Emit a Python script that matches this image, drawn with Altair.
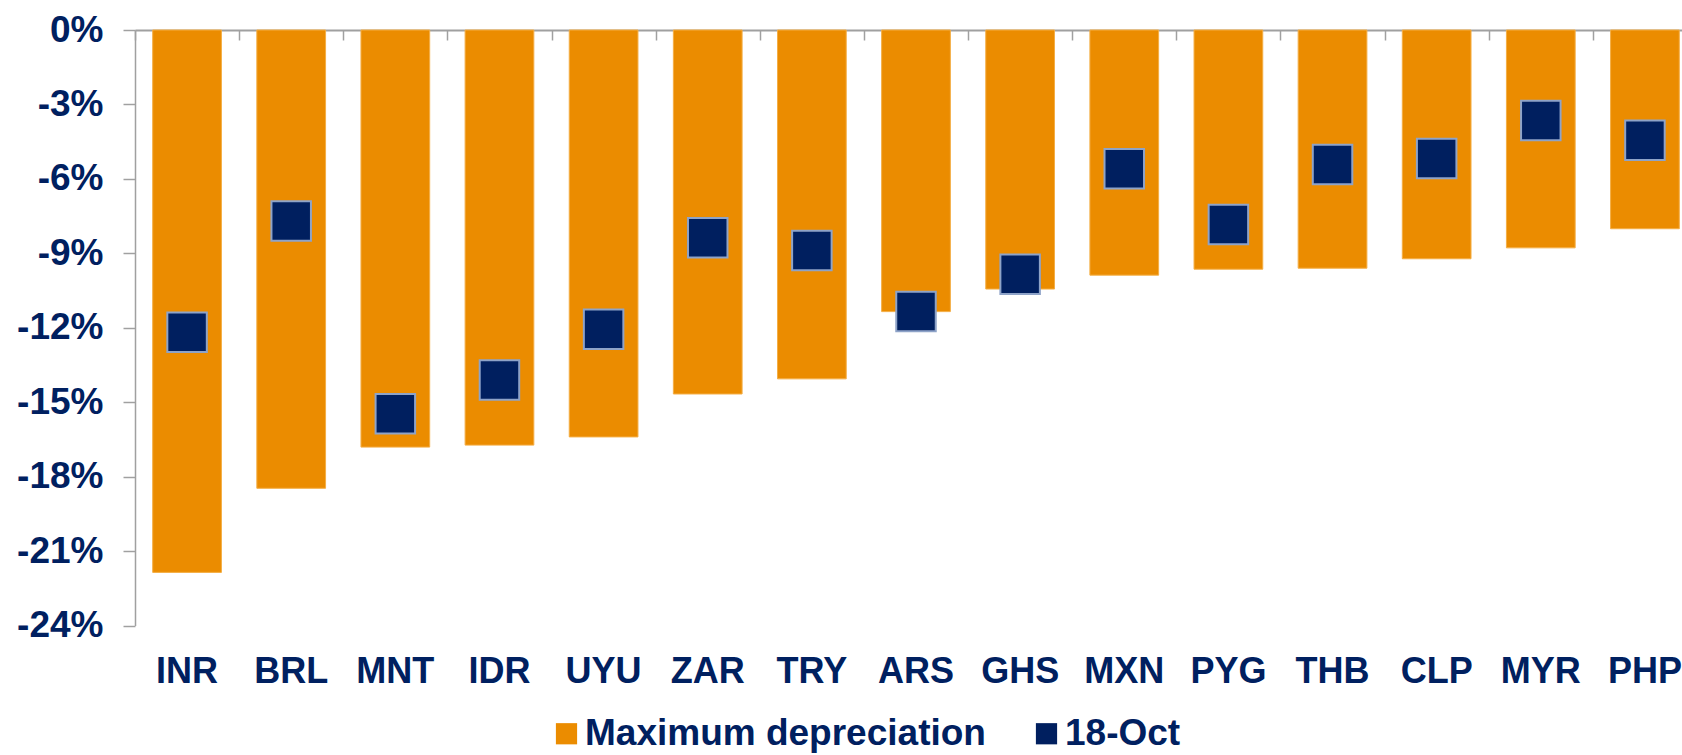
import altair as alt
import pandas as pd

# Currencies, worst drawdown and the 18-Oct reading (per cent vs USD)
currencies = ["INR", "BRL", "MNT", "IDR", "UYU", "ZAR", "TRY", "ARS",
              "GHS", "MXN", "PYG", "THB", "CLP", "MYR", "PHP"]
max_depreciation = [-21.86, -18.47, -16.81, -16.73, -16.40, -14.67, -14.06, -11.35,
                    -10.44, -9.88, -9.64, -9.60, -9.22, -8.78, -8.01]
oct_18 = [-12.18, -7.70, -15.47, -14.11, -12.06, -8.37, -8.89, -11.35,
          -9.84, -5.59, -7.84, -5.42, -5.18, -3.65, -4.44]
y_ticks = [0, -3, -6, -9, -12, -15, -18, -21, -24]
series_names = ["Maximum depreciation", "18-Oct"]

ORANGE = "#EB8C00"
NAVY = "#001F5F"
TEXT = "#002060"
GREY = "#A0A0A0"
FONT = "Liberation Sans"

bars_df = pd.DataFrame({"ccy": currencies, "value": max_depreciation,
                        "series": series_names[0]})
points_df = pd.DataFrame({"ccy": currencies, "value": oct_18,
                          "series": series_names[1]})

PLOT_H = 595.5
LEFT = 135
TOP = 30
RANGE_W = 1562
STEP = RANGE_W / len(currencies)

x_scale = alt.Scale(domain=currencies, range=[0, RANGE_W],
                    paddingInner=0.34, paddingOuter=0.17)
y_scale = alt.Scale(domain=[-24, 0], nice=False, zero=False)
color_scale = alt.Scale(domain=series_names, range=[ORANGE, NAVY])

y_axis = alt.Axis(values=y_ticks, labelExpr="datum.value + '%'", title=None,
                  grid=False, domainColor=GREY, domainWidth=1.5,
                  tickColor=GREY, tickWidth=1.5, tickSize=12, labelPadding=20,
                  labelFont=FONT, labelFontSize=37, labelFontWeight="bold",
                  labelColor=TEXT)

legend = alt.Legend(orient="none", legendX=413, legendY=685,
                    direction="horizontal", columns=2, title=None,
                    symbolType="square", symbolSize=450, symbolStrokeWidth=0,
                    labelFont=FONT, labelFontSize=37, labelFontWeight="bold",
                    labelColor=TEXT, labelOffset=0, columnPadding=42,
                    labelLimit=800, padding=0)

# Category labels along the bottom edge
bars = alt.Chart(bars_df).mark_bar(stroke="#F4AE45", strokeWidth=1).encode(
    x=alt.X("ccy:N", sort=currencies, scale=x_scale,
            axis=alt.Axis(orient="bottom", title=None, domain=False, ticks=False,
                          tickSize=0, labelAngle=0, labelBaseline="alphabetic",
                          labelPadding=57, labelFont=FONT, labelFontSize=36,
                          labelFontWeight="bold", labelColor=TEXT)),
    y=alt.Y("value:Q", scale=y_scale, axis=y_axis),
    color=alt.Color("series:N", scale=color_scale, legend=legend),
)

# Zero line with category-boundary ticks, drawn at the top of the plot
points = alt.Chart(points_df).mark_square(
    size=1560, opacity=1, filled=True, stroke="#8EA3C8", strokeWidth=2
).encode(
    x=alt.X("ccy:N", sort=currencies, scale=x_scale,
            axis=alt.Axis(orient="bottom", offset=-PLOT_H, title=None,
                          labels=False, domain=True, domainColor=GREY,
                          domainWidth=2, ticks=True, tickOffset=-STEP / 2,
                          tickSize=10, tickColor=GREY, tickWidth=1.5)),
    y=alt.Y("value:Q", scale=y_scale, axis=y_axis),
    color=alt.Color("series:N", scale=color_scale, legend=legend),
)

chart = alt.layer(bars, points).resolve_axis(x="independent").properties(
    width=1682 - LEFT,
    height=PLOT_H,
    autosize=alt.AutoSizeParams(type="none"),
    padding={"left": LEFT, "top": TOP, "right": 0, "bottom": 755 - TOP - PLOT_H},
    background="white",
).configure_view(stroke=None)

chart.save("out.html", embed_options={"renderer": "svg", "actions": False})
